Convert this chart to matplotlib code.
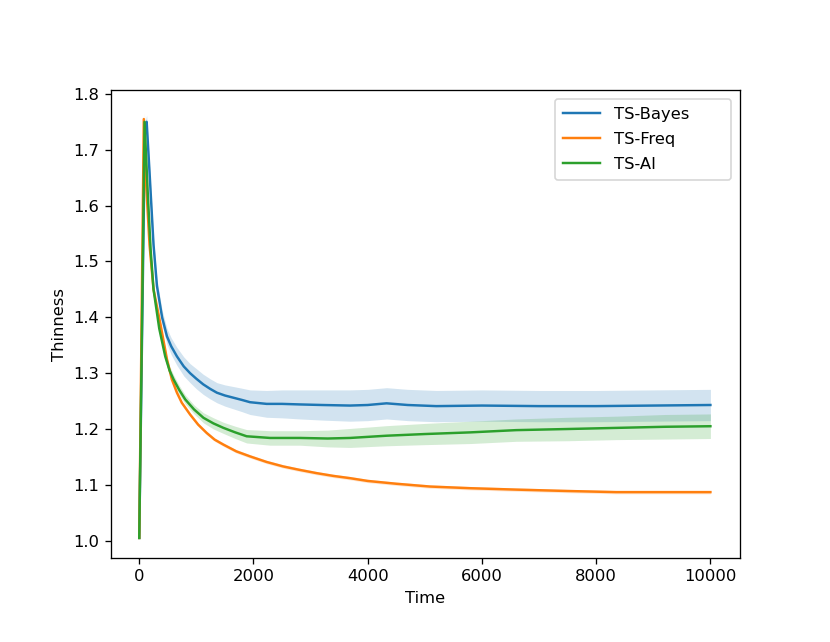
import numpy as np
import matplotlib
matplotlib.use("Agg")
import matplotlib.pyplot as plt

# values
t_bayes = [0, 100, 130, 180, 250, 310, 400, 485, 560, 660, 780, 890, 1000, 1120,
           1240, 1360, 1500, 1650, 1800, 1940, 2230, 2500, 2815, 3200, 3690, 4000,
           4330, 4700, 5200, 6000, 7000, 8000, 9000, 10000]
y_bayes = [1.005, 1.74, 1.75, 1.66, 1.53, 1.456, 1.40, 1.366, 1.348, 1.33, 1.312,
           1.30, 1.29, 1.28, 1.272, 1.265, 1.26, 1.256, 1.252, 1.248, 1.245, 1.245,
           1.244, 1.243, 1.242, 1.243, 1.246, 1.243, 1.241, 1.242, 1.241, 1.241,
           1.242, 1.243]
e_bayes = [0.002, 0.01, 0.012, 0.012, 0.012, 0.012, 0.013, 0.014, 0.015, 0.016,
           0.017, 0.017, 0.018, 0.018, 0.018, 0.018, 0.019, 0.02, 0.021, 0.022,
           0.024, 0.025, 0.026, 0.027, 0.028, 0.028, 0.028, 0.028, 0.028, 0.028,
           0.028, 0.028, 0.028, 0.028]

t_freq = [0, 80, 120, 180, 250, 367, 485, 570, 660, 745, 890, 1030, 1180, 1320,
          1475, 1700, 1940, 2230, 2520, 2800, 3105, 3400, 3690, 4000, 4500, 5090,
          5800, 6600, 7500, 8350, 9200, 10000]
y_freq = [1.005, 1.755, 1.64, 1.53, 1.45, 1.39, 1.325, 1.289, 1.265, 1.247, 1.226,
          1.208, 1.193, 1.181, 1.172, 1.16, 1.151, 1.141, 1.133, 1.127, 1.121,
          1.116, 1.112, 1.107, 1.102, 1.097, 1.094, 1.0915, 1.089, 1.087, 1.087,
          1.087]
e_freq = [0.002, 0.012, 0.006, 0.005, 0.004, 0.004, 0.004, 0.003, 0.003, 0.003,
          0.003, 0.003, 0.003, 0.003, 0.003, 0.003, 0.003, 0.003, 0.003, 0.003,
          0.003, 0.003, 0.003, 0.003, 0.003, 0.003, 0.003, 0.003, 0.003, 0.003,
          0.003, 0.003]

t_ai = [0, 93, 150, 200, 250, 350, 455, 530, 600, 700, 805, 960, 1125, 1300, 1475,
        1680, 1880, 2290, 2815, 3300, 3690, 4330, 5000, 5800, 6600, 7500, 8350,
        9200, 10000]
y_ai = [1.005, 1.75, 1.62, 1.52, 1.45, 1.38, 1.33, 1.305, 1.289, 1.27, 1.253,
        1.235, 1.22, 1.21, 1.202, 1.194, 1.187, 1.184, 1.184, 1.183, 1.184, 1.188,
        1.191, 1.194, 1.198, 1.200, 1.202, 1.204, 1.205]
e_ai = [0.002, 0.012, 0.01, 0.009, 0.008, 0.008, 0.008, 0.008, 0.008, 0.008,
        0.008, 0.008, 0.009, 0.01, 0.01, 0.011, 0.012, 0.013, 0.013, 0.015, 0.017,
        0.018, 0.019, 0.02, 0.02, 0.021, 0.021, 0.022, 0.022]

series = [
    ("TS-Bayes", t_bayes, y_bayes, e_bayes, "tab:blue"),
    ("TS-Freq", t_freq, y_freq, e_freq, "tab:orange"),
    ("TS-AI", t_ai, y_ai, e_ai, "tab:green"),
]

dpi = 118
fig = plt.figure(figsize=(830 / dpi, 642 / dpi), dpi=dpi)
ax = fig.add_axes([0.1337, 0.1308, 0.758, 0.729])

for name, t, y, e, c in series:
    t = np.array(t)
    y = np.array(y)
    e = np.array(e)
    ax.plot(t, y, color=c, label=name)
    ax.fill_between(t, y - e, y + e, color=c, alpha=0.2, linewidth=0)

ax.set_xlim(-495, 10520)
ax.set_ylim(0.969, 1.807)
ax.set_xlabel("Time")
ax.set_ylabel("Thinness")
# legend box is wider than its content in the reference
ax.legend(loc="upper left", bbox_to_anchor=(0.705, 0, 0.281, 0.981),
          mode="expand", borderaxespad=0, handlelength=2.3,
          labelspacing=0.6, borderpad=0.5)

fig.savefig("out.png", dpi=dpi)
